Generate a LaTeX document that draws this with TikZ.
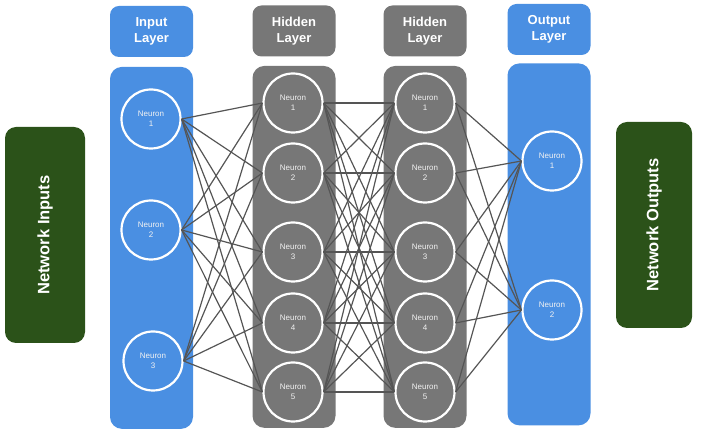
\documentclass[tikz,border=0pt]{standalone}
\usepackage{fontspec}
\setmainfont{Liberation Sans}
\usetikzlibrary{positioning}
\definecolor{layerblue}{HTML}{4A8FE2}
\definecolor{layergray}{HTML}{777777}
\definecolor{iogreen}{HTML}{2B5219}
\definecolor{linkgray}{HTML}{555555}
\tikzset{
  layerhead/.style={rounded corners=9pt, minimum width=83pt, minimum height=51pt, align=center, text=white, font=\fontsize{13}{16}\selectfont\bfseries},
  layercol/.style={rounded corners=12pt, minimum width=83pt, minimum height=362pt},
  neuron/.style={circle, draw=white, line width=2.2pt, minimum size=59pt, inner sep=0pt, align=center, text=white!90!gray, font=\fontsize{8}{10}\selectfont},
  iobox/.style={fill=iogreen, rounded corners=11pt, rotate=90, text=white, font=\fontsize{16.5}{20}\selectfont\bfseries},
  link/.style={draw=linkgray, line width=1.2pt}
}

\begin{document}
\begin{tikzpicture}[x=1pt,y=-1pt]
  \useasboundingbox (0,0) rectangle (702,435);
  \node[iobox, minimum width=216pt, minimum height=80pt] (NetIn) at (45,235) {Network Inputs};
  \node[iobox, minimum width=206pt, minimum height=76pt] (NetOut) at (654,225) {Network Outputs};

  \node[layerhead, fill=layerblue] (InHead) at (151.5,31.5) {Input\\Layer};
  \node[layerhead, fill=layergray] (HidAHead) at (294,31) {Hidden\\Layer};
  \node[layerhead, fill=layergray] (HidBHead) at (425,31) {Hidden\\Layer};
  \node[layerhead, fill=layerblue] (OutHead) at (549,29.5) {Output\\Layer};
  \node[layercol, fill=layerblue, below=9.5pt of InHead] (InCol) {};
  \node[layercol, fill=layergray, below=9pt of HidAHead] (HidACol) {};
  \node[layercol, fill=layergray, below=9pt of HidBHead] (HidBCol) {};
  \node[layercol, fill=layerblue, below=8pt of OutHead] (OutCol) {};

  \foreach \k/\xx/\yy in {1/151/119, 2/151/230, 3/153/361}
    \node[neuron] (In\k) at (\xx,\yy) {Neuron\\\k};
  \foreach \k/\yy in {1/103, 2/173, 3/252, 4/323, 5/392} {
    \node[neuron] (HidA\k) at (293,\yy) {Neuron\\\k};
    \node[neuron] (HidB\k) at (425,\yy) {Neuron\\\k};
  }
  \foreach \k/\yy in {1/161, 2/310}
    \node[neuron] (Out\k) at (552,\yy) {Neuron\\\k};

  \foreach \j in {1,...,5} {
    \foreach \i in {1,2,3}
      \draw[link] (In\i.east) -- (HidA\j.west);
    \foreach \i in {1,...,5}
      \draw[link] (HidA\i.east) -- (HidB\j.west);
  }
  \foreach \j in {1,2}
    \foreach \i in {1,...,5}
      \draw[link] (HidB\i.east) -- (Out\j.west);
\end{tikzpicture}
\end{document}
